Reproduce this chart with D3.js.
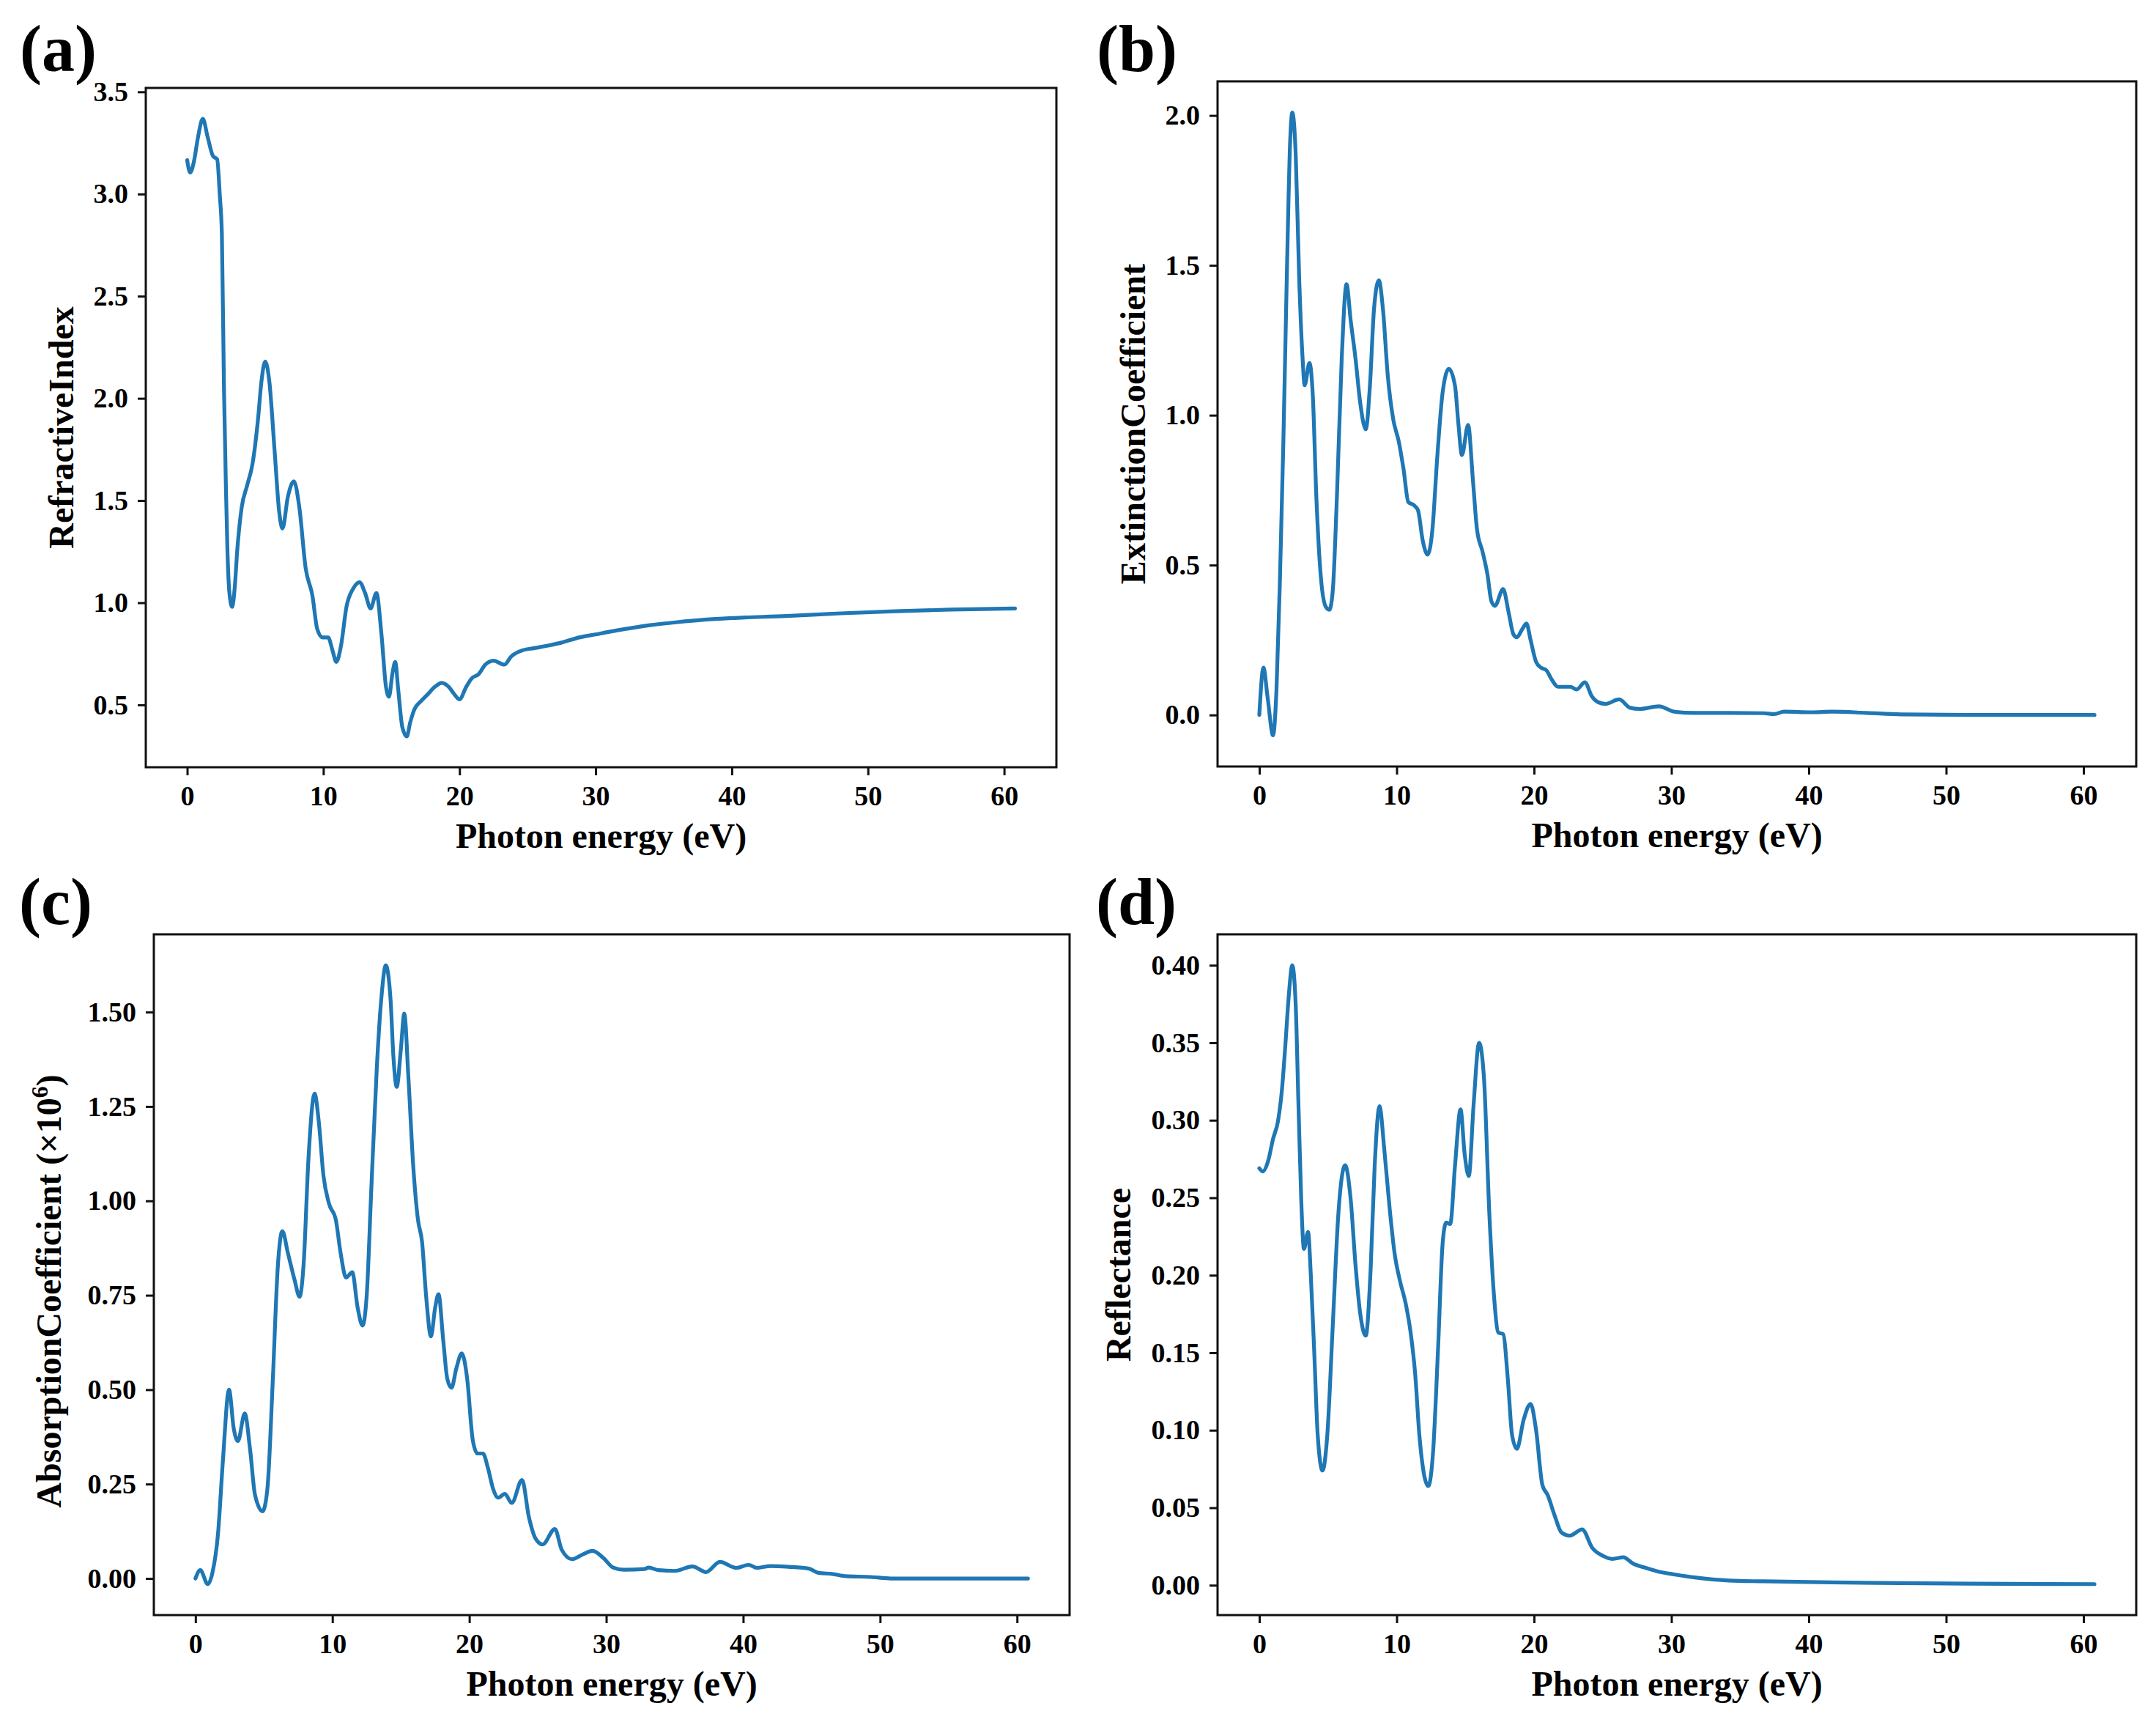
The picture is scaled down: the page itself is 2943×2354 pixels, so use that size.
<!DOCTYPE html>
<html><head><meta charset="utf-8">
<script src="https://cdn.jsdelivr.net/npm/d3@7"></script>
<style>html,body{margin:0;padding:0;background:#fff}</style>
</head><body><svg id="chart" width="2943" height="2354"></svg>
<script>
// ---------- data ----------
const xTickValues = [0, 10, 20, 30, 40, 50, 60];

const refrEnergy = [0,0.22,0.5,0.8,1.15,1.5,1.9,2.2,2.4,2.55,2.7,2.85,2.96,3.1,3.3,3.5,3.67,4.0,4.4,4.8,5.2,5.45,5.73,6.03,6.43,6.75,7.0,7.4,7.84,8.24,8.7,9.2,9.55,9.95,10.35,10.7,10.95,11.3,11.7,12.2,12.66,13.07,13.47,13.9,14.27,14.6,14.82,15.08,15.28,15.5,15.8,16.13,16.38,16.7,17.2,17.7,18.2,18.7,19.2,19.6,20.0,20.5,20.9,21.4,21.9,22.5,23.3,23.8,24.5,25.5,26.5,27.5,28.8,30.0,31.0,32.5,34.0,36.0,38.0,40.0,44.0,48.0,52.0,56.0,60.8];
const refrIndex = [3.166,3.105,3.16,3.28,3.368,3.28,3.185,3.17,2.99,2.80,2.06,1.55,1.25,1.05,0.98,1.08,1.25,1.465,1.573,1.68,1.896,2.08,2.18,2.085,1.735,1.45,1.363,1.52,1.594,1.465,1.17,1.034,0.872,0.83,0.83,0.76,0.71,0.79,0.98,1.07,1.10,1.047,0.972,1.047,0.845,0.589,0.54,0.656,0.71,0.575,0.392,0.346,0.414,0.48,0.52,0.554,0.589,0.608,0.589,0.554,0.527,0.589,0.63,0.65,0.697,0.716,0.697,0.737,0.764,0.778,0.79,0.805,0.83,0.845,0.858,0.875,0.89,0.905,0.917,0.925,0.935,0.948,0.958,0.966,0.972];

const extEnergy = [0,0.3,0.6,1.0,1.25,1.5,1.75,2.0,2.25,2.4,2.65,2.9,3.15,3.3,3.65,3.9,4.15,4.5,4.85,5.1,5.35,5.65,6.0,6.35,6.65,7.0,7.35,7.75,8.05,8.35,8.7,9.0,9.35,9.75,10.15,10.5,10.85,11.25,11.55,11.9,12.25,12.6,12.95,13.35,13.8,14.25,14.5,14.75,15.2,15.55,15.85,16.25,16.6,16.9,17.15,17.75,18.15,18.5,18.75,19.15,19.45,19.75,20.15,20.5,20.9,21.25,21.75,22.25,22.65,23.1,23.7,24.2,24.7,25.2,26.2,27.0,27.7,29.1,30.2,31.7,34.2,36.7,37.5,38.2,40.2,41.7,44.2,46.7,51.7,60.8];
const extCoef = [0,0.158,0.06,-0.068,0.085,0.45,0.91,1.46,1.92,2.01,1.87,1.46,1.19,1.10,1.174,1.06,0.73,0.45,0.36,0.351,0.416,0.73,1.19,1.437,1.317,1.19,1.04,0.953,1.097,1.354,1.45,1.354,1.133,0.986,0.913,0.82,0.71,0.70,0.683,0.581,0.535,0.618,0.857,1.078,1.155,1.097,0.968,0.867,0.968,0.784,0.618,0.545,0.471,0.379,0.364,0.42,0.342,0.269,0.259,0.287,0.305,0.25,0.177,0.158,0.149,0.121,0.094,0.094,0.094,0.085,0.109,0.063,0.042,0.037,0.052,0.024,0.02,0.029,0.011,0.007,0.007,0.006,0.003,0.011,0.009,0.011,0.007,0.002,0,0];

const absEnergy = [0,0.35,0.9,1.25,1.65,2.0,2.45,2.8,3.1,3.6,4.0,4.35,4.9,5.25,5.65,6.0,6.35,6.75,7.25,7.6,7.9,8.25,8.7,9.0,9.35,9.75,10.25,10.6,11.0,11.45,11.85,12.2,12.5,12.85,13.25,13.6,13.9,14.25,14.45,14.7,15.0,15.25,15.55,15.9,16.25,16.55,16.85,17.2,17.5,17.75,18.1,18.4,18.7,19.05,19.45,19.85,20.25,20.6,21.0,21.35,21.75,22.1,22.6,23.1,23.85,24.35,24.85,25.35,26.25,26.75,27.5,28.3,29.0,29.8,30.5,31.3,32.8,33.1,33.8,35.0,36.3,37.3,38.3,39.5,40.4,41.0,42.0,43.3,44.8,45.5,46.5,47.5,49.3,50.8,60.8];
const absCoef = [0,0.022,-0.015,0.017,0.12,0.31,0.50,0.396,0.364,0.437,0.338,0.221,0.178,0.236,0.527,0.818,0.92,0.862,0.789,0.746,0.833,1.11,1.284,1.212,1.066,0.993,0.95,0.862,0.797,0.811,0.716,0.67,0.746,1.037,1.357,1.547,1.624,1.532,1.386,1.302,1.401,1.496,1.328,1.095,0.95,0.891,0.746,0.641,0.716,0.753,0.629,0.527,0.505,0.556,0.596,0.527,0.367,0.331,0.331,0.294,0.236,0.214,0.224,0.20,0.261,0.163,0.105,0.09,0.131,0.076,0.051,0.064,0.073,0.054,0.029,0.023,0.025,0.029,0.022,0.02,0.032,0.017,0.044,0.028,0.036,0.028,0.033,0.031,0.026,0.015,0.012,0.006,0.004,0,0];

const reflEnergy = [0,0.25,0.65,1.0,1.35,1.65,1.9,2.15,2.4,2.65,2.85,3.05,3.25,3.55,3.75,4.0,4.25,4.6,4.95,5.35,5.75,6.25,6.65,7.0,7.35,7.75,8.1,8.4,8.75,9.1,9.5,9.85,10.25,10.65,11.0,11.35,11.65,12.3,12.65,13.0,13.35,13.6,13.9,14.25,14.65,14.95,15.25,15.6,16.0,16.35,16.75,17.1,17.4,17.75,18.1,18.4,18.75,19.25,19.75,20.15,20.6,21.0,21.5,22.0,22.6,23.5,24.25,25.0,25.7,26.5,27.2,28.2,29.2,30.2,31.7,34.2,36.7,41.7,46.7,51.7,60.8];
const reflectance = [0.269,0.267,0.274,0.288,0.299,0.32,0.349,0.381,0.40,0.374,0.31,0.249,0.217,0.228,0.20,0.15,0.097,0.074,0.097,0.168,0.239,0.271,0.249,0.207,0.175,0.161,0.203,0.271,0.309,0.281,0.242,0.214,0.196,0.182,0.164,0.136,0.097,0.064,0.086,0.15,0.221,0.234,0.233,0.271,0.307,0.278,0.264,0.31,0.35,0.328,0.239,0.185,0.163,0.162,0.132,0.097,0.088,0.107,0.117,0.10,0.065,0.058,0.045,0.034,0.032,0.036,0.024,0.019,0.017,0.018,0.014,0.011,0.0085,0.007,0.005,0.003,0.0025,0.0018,0.0014,0.001,0.0007];

const yTicksA = [0.5, 1.0, 1.5, 2.0, 2.5, 3.0, 3.5];
const yTicksB = [0.0, 0.5, 1.0, 1.5, 2.0];
const yTicksC = [0.00, 0.25, 0.50, 0.75, 1.00, 1.25, 1.50];
const yTicksD = [0.00, 0.05, 0.10, 0.15, 0.20, 0.25, 0.30, 0.35, 0.40];

const panelTags = ["(a)", "(b)", "(c)", "(d)"];
const yLabels = ["RefractiveIndex", "ExtinctionCoefficient", "AbsorptionCoefficient (×10", "Reflectance"];
const xLabel = "Photon energy (eV)";

// ---------- layout ----------
const panels = [
  {E: refrEnergy, V: refrIndex, ticks: yTicksA, fmt: ".1f", box: {l:199, r:1442, t:120, b:1047}, ylx: 100, yly: null, tag: {x:27, y:97}},
  {E: extEnergy, V: extCoef, ticks: yTicksB, fmt: ".1f", box: {l:1662, r:2916, t:111, b:1046}, ylx: 1563, yly: null, tag: {x:1497, y:97}},
  {E: absEnergy, V: absCoef, ticks: yTicksC, fmt: ".2f", box: {l:210, r:1460, t:1275, b:2204}, ylx: 83, yly: 1762, sup: "6", tail: ")", tag: {x:26, y:1261}},
  {E: reflEnergy, V: reflectance, ticks: yTicksD, fmt: ".2f", box: {l:1662, r:2916, t:1275, b:2204}, ylx: 1543, yly: null, tag: {x:1496, y:1261}}
];

const FONT = "'Liberation Serif','Times New Roman',Times,serif";
const svg = d3.select("#chart");
svg.append("rect").attr("width", 2943).attr("height", 2354).attr("fill", "#fff");

panels.forEach((p, i) => {
  const data = d3.zip(p.E, p.V);
  const [xmin, xmax] = d3.extent(p.E);
  const [ymin, ymax] = d3.extent(p.V);
  const xp = 0.05 * (xmax - xmin), yp = 0.05 * (ymax - ymin);
  const x = d3.scaleLinear().domain([xmin - xp, xmax + xp]).range([p.box.l, p.box.r]);
  const y = d3.scaleLinear().domain([ymin - yp, ymax + yp]).range([p.box.b, p.box.t]);
  const g = svg.append("g");

  // line
  g.append("path").datum(data)
    .attr("fill", "none").attr("stroke", "#1f77b4").attr("stroke-width", 5.2)
    .attr("stroke-linejoin", "round").attr("stroke-linecap", "round")
    .attr("d", d3.line().x(d => x(d[0])).y(d => y(d[1])).curve(d3.curveMonotoneX));

  // axes
  const xa = g.append("g").attr("transform", `translate(0,${p.box.b})`)
    .call(d3.axisBottom(x).tickValues(xTickValues).tickFormat(d3.format("d")).tickSize(11).tickPadding(14));
  const ya = g.append("g").attr("transform", `translate(${p.box.l},0)`)
    .call(d3.axisLeft(y).tickValues(p.ticks).tickFormat(d3.format(p.fmt)).tickSize(11).tickPadding(13));
  [xa, ya].forEach(a => {
    a.select(".domain").remove();
    a.selectAll(".tick line").attr("stroke", "#111").attr("stroke-width", 3);
    a.selectAll(".tick text").attr("fill", "#000").style("font-family", FONT)
      .style("font-weight", "bold").style("font-size", "38px");
  });

  // frame
  g.append("rect").attr("x", p.box.l).attr("y", p.box.t)
    .attr("width", p.box.r - p.box.l).attr("height", p.box.b - p.box.t)
    .attr("fill", "none").attr("stroke", "#111").attr("stroke-width", 3);

  // x label
  g.append("text").attr("x", (p.box.l + p.box.r) / 2).attr("y", p.box.b + 110)
    .attr("text-anchor", "middle").style("font-family", FONT).style("font-weight", "bold")
    .style("font-size", "48px").attr("fill", "#000").text(xLabel);

  // y label
  const cy = p.yly || (p.box.t + p.box.b) / 2;
  const yl = g.append("text").attr("transform", `translate(${p.ylx},${cy}) rotate(-90)`)
    .attr("text-anchor", "middle").style("font-family", FONT).style("font-weight", "bold")
    .style("font-size", "48px").attr("fill", "#000");
  yl.append("tspan").text(yLabels[i]);
  if (p.sup) {
    yl.append("tspan").attr("baseline-shift", "super").style("font-size", "32px").text(p.sup);
    yl.append("tspan").text(p.tail);
  }

  // panel tag
  g.append("text").attr("x", p.tag.x).attr("y", p.tag.y)
    .style("font-family", FONT).style("font-weight", "bold").style("font-size", "90px")
    .attr("fill", "#000").text(panelTags[i]);
});
</script>
</body></html>
